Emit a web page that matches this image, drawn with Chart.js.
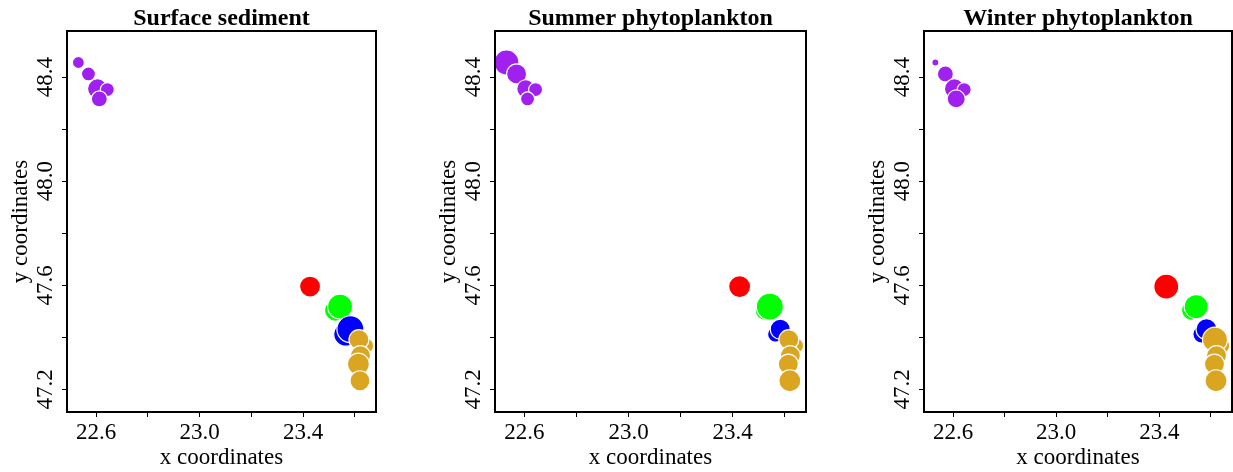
<html>
<head>
<meta charset="utf8">
<title>Surface sediment / phytoplankton</title>
<script src="https://cdn.jsdelivr.net/npm/chart.js@4.4.0/dist/chart.umd.min.js"></script>
<style>
body{margin:0;background:#fff;width:1233px;height:472px;overflow:hidden;position:relative}
.panel{position:absolute;top:0;height:472px}
</style>
</head>
<body>
<div class="panel" style="left:0px;width:380px"><canvas id="c0"></canvas></div>
<div class="panel" style="left:428px;width:382px"><canvas id="c1"></canvas></div>
<div class="panel" style="left:857px;width:376px"><canvas id="c2"></canvas></div>
<script>
// site coordinates (same sites in every panel)
var siteX = [22.531, 22.570, 22.605, 22.643, 22.612, 23.427, 23.525, 23.543, 23.565, 23.583, 23.642, 23.616, 23.622, 23.614, 23.620];
var siteY = [48.456, 48.412, 48.355, 48.352, 48.316, 47.595, 47.504, 47.518, 47.412, 47.431, 47.368, 47.391, 47.330, 47.297, 47.233];
var siteGroup = [0, 0, 0, 0, 0, 1, 2, 2, 3, 3, 4, 4, 4, 4, 4];

// bubble size per site, one list per panel
var sedimentSize = [6, 7, 10, 7, 8, 10.5, 11, 12.5, 12, 13.5, 8, 10, 10, 11, 10];
var summerSize   = [12.5, 10, 9, 7, 7, 11, 10, 13.5, 8, 10, 8, 10, 10, 10, 11];
var winterSize   = [3.5, 8, 10, 7, 9, 12.5, 10, 12, 9, 10.5, 8, 12.5, 10, 10, 11];

var panelTitles = ['Surface sediment', 'Summer phytoplankton', 'Winter phytoplankton'];

var xTicks = [22.6, 22.8, 23.0, 23.2, 23.4, 23.6];
var xTickLabels = ['22.6', '', '23.0', '', '23.4', ''];
var yTicks = [47.2, 47.4, 47.6, 47.8, 48.0, 48.2, 48.4];
var yTickLabels = ['47.2', '', '47.6', '', '48.0', '', '48.4'];

var xMin = 22.487, xMax = 23.682;
var yMin = 47.113, yMax = 48.577;

var groupColors = ['#A020F0', '#FF0000', '#00FF00', '#0000FF', '#DAA520'];
var serif = 'Liberation Serif, Times New Roman, serif';

var frame = {
    id: 'frame',
    afterDraw: function(chart){
        var a = chart.chartArea, c = chart.ctx;
        c.save();
        c.strokeStyle = '#000';
        c.lineWidth = 2;
        c.strokeRect(a.left, a.top, a.right - a.left, a.bottom - a.top);
        c.restore();
    }
};

function makePanel(id, title, sizes, padRight){
    var pts = [];
    for (var i = 0; i < siteX.length; i++) {
        pts.push({x: siteX[i], y: siteY[i], r: sizes[i]});
    }
    var cols = siteGroup.map(function(g){ return groupColors[g]; });
    new Chart(document.getElementById(id), {
        type: 'bubble',
        data: {
            datasets: [{
                data: pts,
                backgroundColor: cols,
                borderColor: '#fff',
                borderWidth: 1.2
            }]
        },
        options: {
            responsive: true,
            maintainAspectRatio: false,
            animation: false,
            layout: {autoPadding: false, padding: {left: 0, right: padRight, top: 0, bottom: 0}},
            plugins: {
                legend: {display: false},
                tooltip: {enabled: false},
                title: {
                    display: true,
                    text: title,
                    fullSize: false,
                    color: '#000',
                    font: {family: serif, size: 24, weight: 'bold', lineHeight: 1},
                    padding: {top: 7, bottom: 0}
                }
            },
            scales: {
                x: {
                    type: 'linear',
                    min: xMin,
                    max: xMax,
                    afterBuildTicks: function(s){ s.ticks = xTicks.map(function(v){ return {value: v}; }); },
                    afterFit: function(s){ s.height = 60; },
                    ticks: {
                        autoSkip: false,
                        maxRotation: 0,
                        color: '#000',
                        padding: 2,
                        font: {family: serif, size: 23},
                        callback: function(v, i){ return xTickLabels[i]; }
                    },
                    grid: {drawOnChartArea: false, drawTicks: true, tickLength: 5, color: '#000'},
                    border: {display: false},
                    title: {
                        display: true,
                        text: 'x coordinates',
                        color: '#000',
                        font: {family: serif, size: 23},
                        padding: {top: 0, bottom: 0}
                    }
                },
                y: {
                    type: 'linear',
                    min: yMin,
                    max: yMax,
                    afterBuildTicks: function(s){ s.ticks = yTicks.map(function(v){ return {value: v}; }); },
                    afterFit: function(s){ s.width = 67; },
                    ticks: {
                        autoSkip: false,
                        minRotation: 90,
                        maxRotation: 90,
                        crossAlign: 'center',
                        color: '#000',
                        padding: -4,
                        font: {family: serif, size: 23},
                        callback: function(v, i){ return yTickLabels[i]; }
                    },
                    grid: {drawOnChartArea: false, drawTicks: true, tickLength: 5, color: '#000'},
                    border: {display: false},
                    title: {
                        display: true,
                        text: 'y coordinates',
                        color: '#000',
                        font: {family: serif, size: 23},
                        padding: {top: 7, bottom: 0}
                    }
                }
            }
        },
        plugins: [frame]
    });
}

makePanel('c0', panelTitles[0], sedimentSize, 4);
makePanel('c1', panelTitles[1], summerSize, 4);
makePanel('c2', panelTitles[2], winterSize, 1);
</script>
</body>
</html>
